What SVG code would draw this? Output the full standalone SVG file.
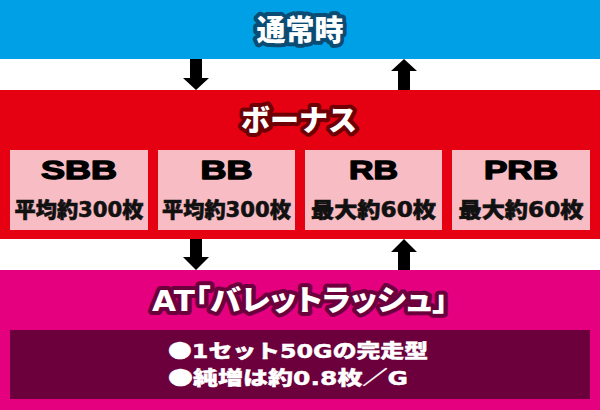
<svg xmlns="http://www.w3.org/2000/svg" width="600" height="410" viewBox="0 0 600 410">
<style>
.band-blue{fill:#00a0e6}
.band-red{fill:#e50012}
.band-mag{fill:#e4007f}
.box{fill:#f8bcc4}
.dark{fill:#6b003c}
.jp{font-family:"Noto Sans CJK JP","Noto Sans",sans-serif;font-weight:900}
.num{font-family:"DejaVu Sans","Liberation Sans",sans-serif;font-weight:bold}
.title{font-size:29px;fill:#ffffff;paint-order:stroke;stroke-width:8px;stroke-linejoin:round;text-anchor:middle}
.lab{font-family:"Liberation Sans",Arial,sans-serif;font-weight:bold;font-size:25px;fill:#000;stroke:#000;stroke-width:1.3px;stroke-linejoin:round;text-anchor:middle}
.sub{font-size:21px;fill:#111;stroke:#111;stroke-width:0.6px;text-anchor:middle}
.line{font-size:19px;fill:#ffffff;stroke:#ffffff;stroke-width:0.4px}
.arrow{fill:#000}
</style>
<rect x="0" y="0" width="600" height="410" fill="#ffffff"/>
<g id="normal">
<rect class="band-blue" x="0" y="0" width="600" height="59"/>
<text class="jp title" x="300" y="41" stroke="#0a4c74">通常時</text>
</g>
<g id="bonus">
<rect class="band-red" x="0" y="90" width="600" height="149"/>
<text class="jp title" x="299" y="131" stroke="#6e0005" font-size="28">ボーナス</text>
<g id="sbb">
<rect class="box" x="10" y="150" width="138" height="80"/>
<text class="lab" x="79" y="179" textLength="76" lengthAdjust="spacingAndGlyphs">SBB</text>
<text class="jp sub" x="79" y="217" textLength="129" lengthAdjust="spacingAndGlyphs">平均約<tspan class="num">300</tspan>枚</text>
</g>
<g id="bb">
<rect class="box" x="158" y="150" width="137" height="80"/>
<text class="lab" x="226.5" y="179" textLength="52" lengthAdjust="spacingAndGlyphs">BB</text>
<text class="jp sub" x="226.5" y="217" textLength="129" lengthAdjust="spacingAndGlyphs">平均約<tspan class="num">300</tspan>枚</text>
</g>
<g id="rb">
<rect class="box" x="305" y="150" width="137" height="80"/>
<text class="lab" x="373.5" y="179" textLength="49" lengthAdjust="spacingAndGlyphs">RB</text>
<text class="jp sub" x="373.5" y="217" textLength="125" lengthAdjust="spacingAndGlyphs">最大約<tspan class="num">60</tspan>枚</text>
</g>
<g id="prb">
<rect class="box" x="452" y="150" width="138" height="80"/>
<text class="lab" x="521" y="179" textLength="74" lengthAdjust="spacingAndGlyphs">PRB</text>
<text class="jp sub" x="521" y="217" textLength="125" lengthAdjust="spacingAndGlyphs">最大約<tspan class="num">60</tspan>枚</text>
</g>
</g>
<g id="at">
<rect class="band-mag" x="0" y="270" width="600" height="140"/>
<text class="jp title" x="300" y="311" stroke="#6b003c" font-size="27" textLength="296" lengthAdjust="spacingAndGlyphs" style="font-feature-settings:'palt'"><tspan class="num">AT</tspan>「バレットラッシュ」</text>
<rect class="dark" x="10" y="330" width="580" height="69"/>
<text class="jp line" x="168" y="358" textLength="260" lengthAdjust="spacingAndGlyphs">●<tspan class="num">1</tspan>セット<tspan class="num">50G</tspan>の完走型</text>
<text class="jp line" x="168" y="385" textLength="240" lengthAdjust="spacingAndGlyphs">●純増は約<tspan class="num">0.8</tspan>枚／<tspan class="num">G</tspan></text>
</g>
<g id="connectors">
<polygon class="arrow" points="190,59 202,59 202,78 209,78 196,90 183,78 190,78"/>
<polygon class="arrow" points="404,59 417,71 410,71 410,90 398,90 398,71 391,71"/>
<polygon class="arrow" points="190,239 202,239 202,257 209,257 196,270 183,257 190,257"/>
<polygon class="arrow" points="404,239 417,252 410,252 410,270 398,270 398,252 391,252"/>
</g>
</svg>
